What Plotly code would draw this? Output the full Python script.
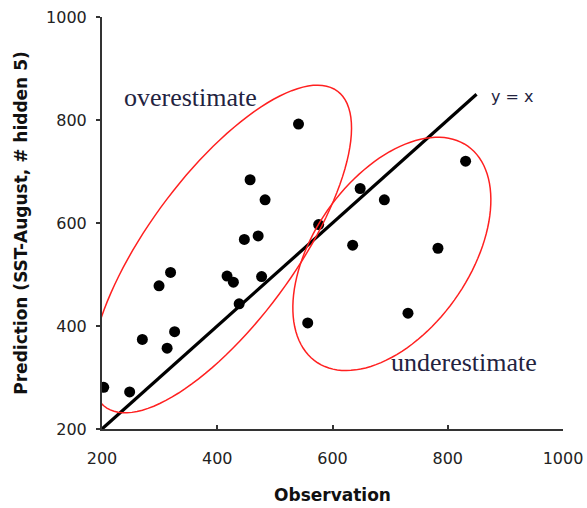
import numpy as np
import plotly.graph_objects as go

# Data
observation = [203, 248, 270, 313, 326, 299, 319, 417, 428, 438, 477, 447,
               471, 457, 483, 541, 576, 557, 648, 690, 831, 635, 783, 731]
prediction = [281, 272, 374, 357, 389, 478, 504, 497, 485, 443, 496, 568,
              575, 684, 645, 792, 597, 406, 667, 645, 720, 557, 551, 425]
line_x = [200, 850]
tick_vals = [200, 400, 600, 800, 1000]

W, H = 587, 508
ML, MR, MT, MB = 102, 24, 17, 79
kx = (W - ML - MR) / 800.0
ky = (H - MT - MB) / 800.0


def ellipse_path(cx, cy, a, b, theta_deg, n=120):
    th = np.radians(theta_deg)
    t = np.linspace(0, 2 * np.pi, n)
    dx = a * np.cos(t) * np.cos(th) - b * np.sin(t) * np.sin(th)
    dy = a * np.cos(t) * np.sin(th) + b * np.sin(t) * np.cos(th)
    xs = cx + dx / kx
    ys = cy + dy / ky
    p = "M " + " L ".join(f"{x:.2f},{y:.2f}" for x, y in zip(xs, ys)) + " Z"
    return p


fig = go.Figure()
fig.add_trace(go.Scatter(x=line_x, y=line_x, mode="lines",
                         line=dict(color="black", width=3.2), showlegend=False,
                         hoverinfo="skip"))
fig.add_trace(go.Scatter(x=observation, y=prediction, mode="markers",
                         marker=dict(color="black", size=11), showlegend=False))

fig.add_shape(type="path", xref="x", yref="y",
              path=ellipse_path(407, 549.5, 196, 73.4, 53.7),
              line=dict(color="#ff2020", width=1.5))
fig.add_shape(type="path", xref="x", yref="y",
              path=ellipse_path(703, 540, 131.8, 77.7, 54.8),
              line=dict(color="#ff2020", width=1.5))

txt_col = "#23233f"
fig.add_annotation(text="overestimate", x=200 + (122 - ML) / kx,
                   y=200 + (429 - 97) / ky, xref="x", yref="y",
                   xanchor="left", yanchor="middle", showarrow=False,
                   font=dict(family="Liberation Serif", size=26, color=txt_col))
fig.add_annotation(text="underestimate", x=200 + (389 - ML) / kx,
                   y=200 + (429 - 362) / ky, xref="x", yref="y",
                   xanchor="left", yanchor="middle", showarrow=False,
                   font=dict(family="Liberation Serif", size=26, color=txt_col))
fig.add_annotation(text="y = x", x=200 + (489 - ML) / kx,
                   y=200 + (429 - 96) / ky, xref="x", yref="y",
                   xanchor="left", yanchor="middle", showarrow=False,
                   font=dict(family="DejaVu Sans", size=16, color=txt_col))

fig.update_layout(
    width=W, height=H, margin=dict(l=ML, r=MR, t=MT, b=MB),
    plot_bgcolor="white", paper_bgcolor="white",
    font=dict(family="DejaVu Sans", color="#222"),
)
fig.update_xaxes(range=[200, 1000], tickvals=tick_vals, showgrid=False,
                 automargin=False,
                 zeroline=False, showline=True, linecolor="#333", linewidth=2,
                 ticks="inside", ticklen=4, tickcolor="#333", tickwidth=2,
                 ticklabelstandoff=14, tickfont=dict(size=16, color="#222"),
                 title=dict(text="<b>Observation</b>", standoff=22,
                            font=dict(size=17, family="DejaVu Sans", color="#111")))
fig.update_yaxes(range=[200, 1000], tickvals=tick_vals, showgrid=False,
                 automargin=False,
                 zeroline=False, showline=True, linecolor="#333", linewidth=2,
                 ticks="outside", ticklen=4, tickcolor="#333", tickwidth=2,
                 ticklabelstandoff=6, tickfont=dict(size=16, color="#222"),
                 title=dict(text="<b>Prediction (SST-August, # hidden 5)</b>",
                            standoff=14,
                            font=dict(size=17, family="DejaVu Sans", color="#111")))

fig.write_html("out.html")
